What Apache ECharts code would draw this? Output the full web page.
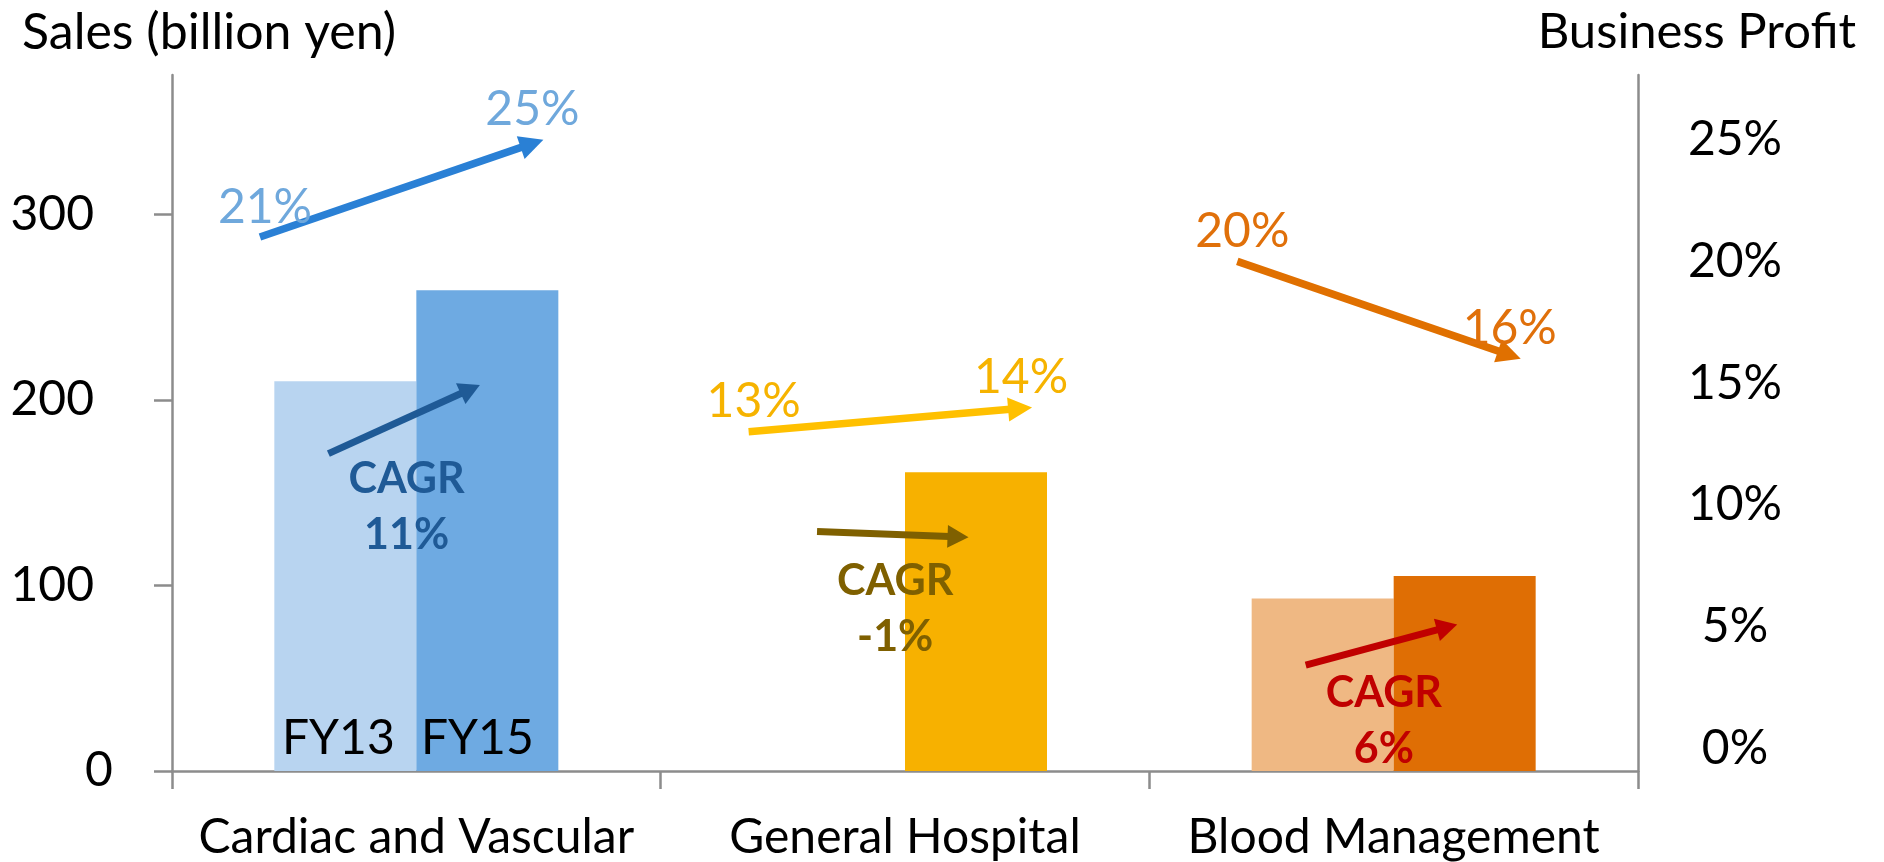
<!DOCTYPE html>
<html><head><meta charset="utf-8">
<script src="https://cdn.jsdelivr.net/npm/echarts@6/dist/echarts.min.js"></script>
<style>html,body{margin:0;padding:0;background:#fff}#c{width:1884px;height:862px}</style>
</head><body><div id="c"></div>
<script>
// ---------- data ----------
const categories = ['Cardiac and Vascular', 'General Hospital', 'Blood Management'];
const periodLabels = ['FY13', 'FY15'];
const salesFY13 = [210, null, 93];      // billion yen
const salesFY15 = [259, 161, 105];      // billion yen
const profitFY13 = [21, 13, 20];        // business profit margin %
const profitFY15 = [25, 14, 16];        // business profit margin %
const cagr = [11, -1, 6];               // sales CAGR %
const cagrArrowFrom = [171, 129, 57];   // CAGR arrow start, on sales axis (billion yen)
const cagrArrowTo = [208, 126, 79];     // CAGR arrow end, on sales axis (billion yen)
const cagrLabelAt = [142, 87, 27];      // CAGR note centre, on sales axis (billion yen)
const salesTicks = [0, 100, 200, 300];
const profitTicks = [0, 5, 10, 15, 20, 25];

// ---------- styles ----------
const FONT = 'Lato';
const AXIS = '#8C8C8C';
const fy13Colors = ['#B8D4F0', '#F7B100', '#EFB883'];
const fy15Colors = ['#6EAAE2', '#F7B100', '#DF6E04'];
const profitArrowColors = ['#2A80D5', '#FFC000', '#E07000'];
const profitLabelColors = ['#6FA8DC', '#F6B300', '#E0700A'];
const cagrColors = ['#1F5A96', '#7F6000', '#C00000'];

function arrow(a, b, color, w, hl, hw) {
  const dx = b[0] - a[0], dy = b[1] - a[1], L = Math.hypot(dx, dy);
  const ux = dx / L, uy = dy / L, nx = -uy, ny = ux;
  const bx = b[0] - ux * hl, by = b[1] - uy * hl;
  return [
    {type: 'line', shape: {x1: a[0], y1: a[1], x2: bx + ux * 2, y2: by + uy * 2},
     style: {stroke: color, lineWidth: w, lineCap: 'butt'}},
    {type: 'polygon', shape: {points: [[b[0], b[1]], [bx + nx * hw / 2, by + ny * hw / 2], [bx - nx * hw / 2, by - ny * hw / 2]]},
     style: {fill: color}}
  ];
}

const chart = echarts.init(document.getElementById('c'), null, {renderer: 'canvas'});
const txt = {fontFamily: FONT, fontSize: 48, color: '#000'};

chart.setOption({
  animation: false,
  backgroundColor: '#fff',
  title: [
    {text: 'Sales (billion yen)', left: 22, top: 8, padding: 0,
     textStyle: {fontFamily: FONT, fontSize: 50, fontWeight: 'normal', color: '#000'}},
    {text: 'Business Profit', right: 28, top: 8, padding: 0,
     textStyle: {fontFamily: FONT, fontSize: 49, fontWeight: 'normal', color: '#000'}}
  ],
  grid: {left: 172, right: 246, top: 75, bottom: 89, containLabel: false},
  xAxis: {
    type: 'category', data: categories,
    axisLine: {lineStyle: {color: AXIS, width: 2.5}},
    axisTick: {show: true, length: 18, lineStyle: {color: AXIS, width: 2.5}},
    axisLabel: Object.assign({margin: 43, interval: 0}, txt)
  },
  yAxis: [
    {
      type: 'value', min: 0, max: 375, position: 'left',
      splitLine: {show: false},
      axisLine: {show: true, lineStyle: {color: AXIS, width: 2.5}},
      axisTick: {show: true, length: 18, customValues: salesTicks, lineStyle: {color: AXIS, width: 2.5}},
      axisLabel: Object.assign({
        margin: 78, customValues: salesTicks,
        formatter: v => v === 0 ? '{z|0}' : String(v),
        rich: {z: {width: 9, align: 'left', fontFamily: FONT, fontSize: 48, color: '#000'}}
      }, txt)
    },
    {
      type: 'value', min: -0.94, max: 27.66, position: 'right',
      splitLine: {show: false},
      axisLine: {show: true, lineStyle: {color: AXIS, width: 2.5}},
      axisTick: {show: false},
      axisLabel: Object.assign({
        margin: 97, align: 'center', customValues: profitTicks,
        formatter: v => v + '%'
      }, txt)
    }
  ],
  series: [
    {
      type: 'bar', name: periodLabels[0], barWidth: 142, barGap: '0%',
      data: salesFY13.map((v, i) => v == null ? '-' : {
        value: v, itemStyle: {color: fy13Colors[i]},
        label: i === 0 ? Object.assign({show: true, position: 'insideBottom', distance: 8, offset: [-7, 0],
                                        lineHeight: 48, formatter: periodLabels[0]}, txt) : {show: false}
      })
    },
    {
      type: 'bar', name: periodLabels[1], barWidth: 142, barGap: '0%',
      data: salesFY15.map((v, i) => v == null ? '-' : {
        value: v, itemStyle: {color: fy15Colors[i]},
        label: i === 0 ? Object.assign({show: true, position: 'insideBottom', distance: 8, offset: [-10, 0],
                                        lineHeight: 48, formatter: periodLabels[1]}, txt) : {show: false}
      })
    },
    {
      type: 'custom', name: 'profit', xAxisIndex: 0, yAxisIndex: 1, z: 5,
      data: categories.map((c, i) => [i, profitFY13[i], profitFY15[i]]),
      renderItem: (params, api) => {
        const i = api.value(0);
        const band = api.size([1, 0])[0];
        const a = api.coord([i, api.value(1)]); a[0] += -0.32 * band;
        const b = api.coord([i, api.value(2)]); b[0] += 0.26 * band;
        const ch = arrow(a, b, profitArrowColors[i], 7.5, 24, 24);
        ch.push({type: 'text', x: a[0] + 5, y: a[1] - 30,
          style: {text: api.value(1) + '%', align: 'center', verticalAlign: 'middle',
                  fontFamily: FONT, fontSize: 48, fill: profitLabelColors[i]}});
        ch.push({type: 'text', x: b[0] - 11, y: b[1] - 30,
          style: {text: api.value(2) + '%', align: 'center', verticalAlign: 'middle',
                  fontFamily: FONT, fontSize: 48, fill: profitLabelColors[i]}});
        return {type: 'group', children: ch};
      }
    },
    {
      type: 'custom', name: 'cagr', xAxisIndex: 0, yAxisIndex: 0, z: 6,
      data: categories.map((c, i) => [i, cagrArrowFrom[i], cagrArrowTo[i], cagrLabelAt[i], cagr[i]]),
      renderItem: (params, api) => {
        const i = api.value(0);
        const band = api.size([1, 0])[0];
        const a = api.coord([i, api.value(1)]); a[0] += -0.18 * band;
        const b = api.coord([i, api.value(2)]); b[0] += 0.13 * band;
        const t = api.coord([i, api.value(3)]); t[0] += -0.02 * band;
        const ch = arrow(a, b, cagrColors[i], 7, 21, 23);
        ch.push({type: 'text', x: t[0], y: t[1],
          style: {text: 'CAGR\n' + api.value(4) + '%', align: 'center', verticalAlign: 'middle',
                  fontFamily: FONT, fontSize: 43, fontWeight: 'bold', lineHeight: 56, fill: cagrColors[i]}});
        return {type: 'group', children: ch};
      }
    }
  ]
});
</script>
</body></html>
